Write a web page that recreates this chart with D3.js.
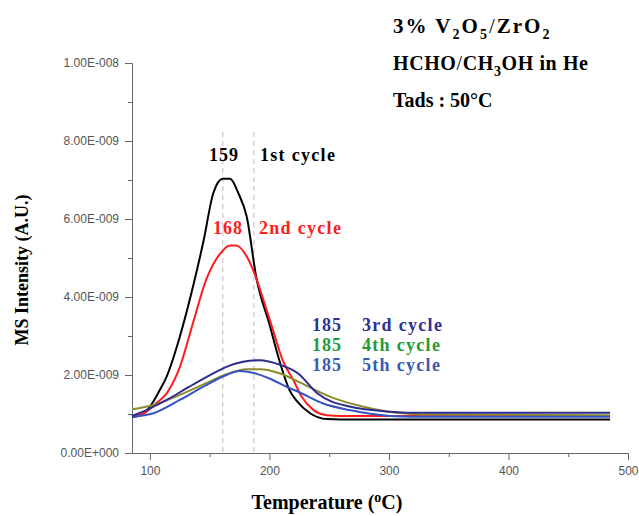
<!DOCTYPE html>
<html>
<head>
<meta charset="utf-8">
<script src="https://cdn.jsdelivr.net/npm/d3@7"></script>
<style>
  body { margin: 0; background: #fff; }
  svg { display: block; }
</style>
</head>
<body>
<div id="chart-area"></div>
<script>
// values, intensity in units of 1e-9
const cycle1 = [[85,0.92],[93,0.97],[101,1.23],[108,1.6],[114,1.96],[125,2.98],[136,4.26],[145,5.46],[153,6.66],[161,7.03],[167,7.03],[174,6.66],[181,6.06],[189,4.5],[200,3.3],[209,2.3],[217,1.6],[223,1.33],[234,1.02],[248,0.87],[260,0.86],[485,0.86]];
const cycle2 = [[85,0.95],[95,1.02],[105,1.27],[114,1.53],[125,2.2],[136,3.33],[147,4.44],[159,5.12],[167,5.32],[172,5.32],[181,5.04],[188,4.56],[195,3.92],[203,3.15],[211,2.38],[220,1.87],[227,1.44],[237,1.1],[248,0.97],[260,0.95],[485,0.95]];
const cycle3 = [[85,0.95],[97,1.1],[114,1.36],[133,1.7],[153,2.04],[164,2.21],[178,2.34],[192,2.38],[209,2.26],[224,2.04],[240,1.53],[267,1.19],[301,1.06],[328,1.03],[485,1.03]];
const cycle4 = [[85,1.12],[103,1.23],[125,1.49],[147,1.79],[164,2.02],[181,2.15],[192,2.15],[209,2.04],[224,1.83],[251,1.44],[278,1.19],[306,1.03],[328,0.99],[485,0.97]];
const cycle5 = [[85,0.93],[103,1.02],[125,1.36],[147,1.74],[164,2.0],[175,2.1],[186,2.06],[200,1.91],[214,1.7],[224,1.57],[245,1.27],[267,1.1],[301,0.95],[320,0.93],[485,0.93]];

const yTicks = [0, 2, 4, 6, 8, 10];
const yMinor = [1, 3, 5, 7, 9];
const xTicks = [100, 200, 300, 400, 500];
const xMinor = [150, 250, 350, 450];
const peakLines = [161, 187];

const series = [
  { name: "1st cycle", data: cycle1, color: "#000000" },
  { name: "2nd cycle", data: cycle2, color: "#ff1c1c" },
  { name: "4th cycle", data: cycle4, color: "#8c8c2c" },
  { name: "5th cycle", data: cycle5, color: "#3552c4" },
  { name: "3rd cycle", data: cycle3, color: "#2c2c90" }
];

const labels = [
  { peak: "159", text: "1st cycle", color: "#000000", x: 209, x2: 260, y: 161 },
  { peak: "168", text: "2nd cycle", color: "#ff1c1c", x: 213, x2: 259, y: 234 },
  { peak: "185", text: "3rd cycle", color: "#2e3192", x: 312, x2: 362, y: 331 },
  { peak: "185", text: "4th cycle", color: "#1f9a3a", x: 312, x2: 362, y: 351 },
  { peak: "185", text: "5th cycle", color: "#3a5ab0", x: 312, x2: 362, y: 371 }
];

const W = 639, H = 516;

const svg = d3.select("#chart-area")
  .append("svg")
  .attr("width", W)
  .attr("height", H);

const x = d3.scaleLinear()
  .domain([85, 500])
  .range([132, 628]);

const y = d3.scaleLinear()
  .domain([0, 10])
  .range([453, 63]);

const fmt = d => {
  if (d === 0) return "0.00E+000";
  const e = Math.floor(Math.log10(d * 1e-9));
  const m = d * 1e-9 / Math.pow(10, e);
  return m.toFixed(2) + "E-" + String(-e).padStart(3, "0");
};

const axisColor = "#666";

// y axis
svg.append("g")
  .attr("transform", `translate(${x(85)},0)`)
  .call(d3.axisLeft(y).tickValues(yTicks).tickSize(7).tickPadding(6).tickFormat(fmt));
svg.append("g")
  .attr("transform", `translate(${x(85)},0)`)
  .call(d3.axisLeft(y).tickValues(yMinor).tickSize(4).tickFormat(""))
  .select(".domain").remove();

// x axis
svg.append("g")
  .attr("transform", `translate(0,${y(0)})`)
  .call(d3.axisBottom(x).tickValues(xTicks).tickSize(7).tickPadding(6).tickSizeOuter(0));
svg.append("g")
  .attr("transform", `translate(0,${y(0)})`)
  .call(d3.axisBottom(x).tickValues(xMinor).tickSize(4).tickFormat(""))
  .select(".domain").remove();

svg.selectAll(".domain, .tick line").attr("stroke", axisColor);
svg.selectAll(".tick text")
  .attr("fill", "#555")
  .attr("font-family", "Liberation Sans, Arial, sans-serif")
  .attr("font-size", "12px");

// peak markers
svg.selectAll(".peak")
  .data(peakLines)
  .enter()
  .append("line")
  .attr("x1", d => x(d))
  .attr("x2", d => x(d))
  .attr("y1", 132)
  .attr("y2", y(0))
  .attr("stroke", "#bbb")
  .attr("stroke-width", 1)
  .attr("stroke-dasharray", "5,4");

// curves
const line = d3.line()
  .x(d => x(d[0]))
  .y(d => y(d[1]))
  .curve(d3.curveMonotoneX);

svg.selectAll(".curve")
  .data(series)
  .enter()
  .append("path")
  .attr("d", d => line(d.data))
  .attr("fill", "none")
  .attr("stroke", d => d.color)
  .attr("stroke-width", 2);

// annotations
const serif = "Liberation Serif, Times New Roman, serif";

labels.forEach(l => {
  svg.append("text")
    .attr("x", l.x).attr("y", l.y)
    .attr("font-family", serif).attr("font-weight", "bold").attr("font-size", "18px")
    .attr("letter-spacing", "1px")
    .attr("fill", l.color)
    .text(l.peak);
  svg.append("text")
    .attr("x", l.x2).attr("y", l.y)
    .attr("font-family", serif).attr("font-weight", "bold").attr("font-size", "18px")
    .attr("letter-spacing", "1.3px")
    .attr("fill", l.color)
    .text(l.text);
});

// title block
const t1 = svg.append("text")
  .attr("x", 393).attr("y", 33)
  .attr("font-family", serif).attr("font-weight", "bold").attr("font-size", "21px")
  .attr("letter-spacing", "2px");
t1.append("tspan").text("3% V");
t1.append("tspan").attr("dy", 6).attr("font-size", "14px").text("2");
t1.append("tspan").attr("dy", -6).text("O");
t1.append("tspan").attr("dy", 6).attr("font-size", "14px").text("5");
t1.append("tspan").attr("dy", -6).attr("font-weight", "normal").text("/");
t1.append("tspan").text("ZrO");
t1.append("tspan").attr("dy", 6).attr("font-size", "14px").text("2");

const t2 = svg.append("text")
  .attr("x", 393).attr("y", 70)
  .attr("font-family", serif).attr("font-weight", "bold").attr("font-size", "20px")
  .attr("letter-spacing", "0.6px");
t2.append("tspan").text("HCHO");
t2.append("tspan").attr("font-weight", "normal").text("/");
t2.append("tspan").text("CH");
t2.append("tspan").attr("dy", 6).attr("font-size", "14px").text("3");
t2.append("tspan").attr("dy", -6).text("OH in He");

svg.append("text")
  .attr("x", 393).attr("y", 107)
  .attr("font-family", serif).attr("font-weight", "bold").attr("font-size", "20px")
  .text("Tads : 50°C");

// axis titles
const xt = svg.append("text")
  .attr("x", 327).attr("y", 509)
  .attr("text-anchor", "middle")
  .attr("font-family", serif).attr("font-weight", "bold").attr("font-size", "20px");
xt.append("tspan").text("Temperature (");
xt.append("tspan").attr("dy", -7).attr("font-size", "14px").text("o");
xt.append("tspan").attr("dy", 7).text("C)");

svg.append("text")
  .attr("transform", "rotate(-90)")
  .attr("x", -270).attr("y", 28)
  .attr("text-anchor", "middle")
  .attr("font-family", serif).attr("font-weight", "bold").attr("font-size", "18px")
  .text("MS Intensity (A.U.)");
</script>
</body>
</html>
